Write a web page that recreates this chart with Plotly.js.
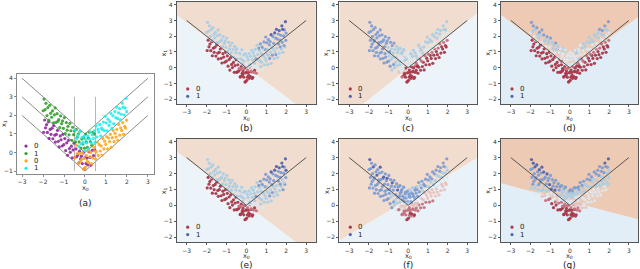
<!DOCTYPE html>
<html><head><meta charset="utf-8">
<script src="https://cdn.plot.ly/plotly-3.0.1.min.js"></script>
<style>html,body{margin:0;padding:0;background:#fff}#chart{width:640px;height:269px}</style>
</head><body><div id="chart"></div>
<script>
// ---------- data: the four groups of the V-shaped dataset ----------
const leftLowerX0 = [-1.97,-1.92,-1.88,-1.83,-1.79,-1.74,-1.71,-1.66,-1.62,-1.57,-1.53,-1.49,-1.44,-1.41,-1.36,-1.31,-1.27,-1.23,-1.18,-1.14,-1.09,-1.05,-1.01,-0.96,-0.92,-0.87,-0.83,-0.79,-0.74,-0.70,-0.65,-0.61,-0.57,-0.52,-0.48,-0.43,-0.39,-0.35,-0.30,-0.26,-0.21,-0.17,-0.13,-0.08,-0.04,0.01,0.05,0.10,0.14,0.19,0.24,0.29,0.35,0.41,0.47];
const leftLowerX1 = [1.09,1.75,1.33,1.50,1.08,1.65,0.76,1.24,0.98,1.31,0.74,1.45,0.93,0.56,0.98,1.19,0.60,0.30,0.89,0.68,0.35,0.98,0.42,0.75,0.10,0.52,-0.15,0.65,0.21,0.01,0.34,-0.29,0.14,0.50,-0.28,0.19,-0.22,-0.13,-0.56,0.07,-0.35,-0.20,-0.60,-0.02,-0.88,-0.27,-0.60,-0.30,-0.67,0.04,-0.26,-0.68,0.12,-0.17,0.13];
const leftUpperX0 = [-1.99,-1.95,-1.90,-1.86,-1.81,-1.77,-1.72,-1.68,-1.64,-1.59,-1.55,-1.50,-1.46,-1.42,-1.38,-1.33,-1.29,-1.25,-1.20,-1.16,-1.11,-1.07,-1.03,-0.98,-0.94,-0.89,-0.85,-0.81,-0.76,-0.72,-0.67,-0.63,-0.59,-0.54,-0.50,-0.45,-0.41,-0.37,-0.32,-0.28,-0.23,-0.19,-0.15,-0.10,-0.06,-0.02,0.03,0.07,0.12,0.16,0.21,0.26,0.32,0.38,0.45];
const leftUpperX1 = [2.25,2.88,2.31,2.65,1.99,2.42,1.74,2.54,2.11,1.90,2.24,1.60,2.03,2.40,1.62,2.09,1.68,1.77,1.34,1.97,1.55,1.70,1.30,1.88,1.02,1.61,1.20,1.41,0.95,1.57,1.17,0.66,1.36,0.96,1.16,0.57,1.24,0.82,0.99,0.57,1.14,0.24,0.73,0.46,0.80,0.23,0.99,0.56,0.27,0.78,1.09,0.59,0.39,1.09,0.99];
const rightLowerX0 = [1.98,1.93,1.89,1.84,1.80,1.75,1.70,1.66,1.61,1.57,1.52,1.48,1.43,1.39,1.34,1.30,1.25,1.21,1.17,1.12,1.08,1.03,0.99,0.94,0.90,0.85,0.81,0.77,0.72,0.68,0.63,0.59,0.54,0.50,0.46,0.41,0.37,0.32,0.28,0.24,0.19,0.15,0.11,0.06,0.02,-0.03,-0.07,-0.12,-0.16,-0.21,-0.26,-0.31,-0.37,-0.42,-0.48];
const rightLowerX1 = [1.74,1.32,1.41,0.98,1.61,1.19,1.33,0.93,1.51,0.65,1.24,0.83,1.03,0.58,1.19,0.80,0.28,0.98,0.59,0.78,0.20,0.86,0.44,0.61,0.19,0.76,-0.14,0.35,0.08,0.42,-0.16,0.55,0.03,-0.35,0.08,0.29,-0.30,-0.61,-0.01,-0.22,-0.55,0.08,-0.48,-0.15,-0.80,-0.32,-0.91,-0.02,-0.37,-0.48,-0.05,-0.59,-0.06,0.40,-0.28];
const rightUpperX0 = [1.99,1.96,1.91,1.87,1.82,1.78,1.73,1.69,1.65,1.60,1.56,1.51,1.47,1.42,1.37,1.33,1.28,1.24,1.19,1.15,1.10,1.06,1.02,0.97,0.93,0.88,0.84,0.79,0.75,0.70,0.66,0.62,0.57,0.53,0.48,0.44,0.40,0.35,0.31,0.26,0.22,0.17,0.13,0.09,0.04,0.00,-0.05,-0.09,-0.14,-0.18,-0.23,-0.29,-0.34,-0.40,-0.47];
const rightUpperX1 = [2.20,2.92,2.40,2.02,2.44,2.66,2.06,1.76,2.36,2.14,1.82,2.44,1.88,2.21,1.55,1.98,1.30,2.10,1.66,1.46,1.79,1.16,1.59,1.95,1.17,1.64,1.23,1.31,0.89,1.51,1.10,1.25,0.84,1.43,0.56,1.16,0.75,0.95,0.50,1.11,0.72,0.20,0.90,0.51,0.70,0.12,0.88,0.54,0.81,0.47,1.14,0.34,0.92,0.76,1.21];

// legend labels of panel (a) and of panels (b)-(g), captions
const legendA = ["0","1","0","1"];
const legendModel = ["0","1"];
const panelLabels = ["(a)","(b)","(c)","(d)","(e)","(f)","(g)"];

// predicted shade of every point (0 = dark red ... 6 = dark blue); order: leftLower, leftUpper, rightLower, rightUpper
const shadesB = ["00000 00000 00000 00000 00000 00000 00000 00000 00000 00000 00303",
                 "44444 44444 44444 44444 44444 44444 44444 43434 34343 33333 33333",
                 "54545 45454 45444 54454 44444 43444 34313 41031 03010 00100 10130",
                 "56556 65565 56565 54655 54555 54545 45445 44444 44444 34344 43434"];
const shadesC = ["55555 55555 55555 55555 54545 44454 43443 43313 12030 10001 00100",
                 "55555 55555 55555 55555 55455 54545 44444 34443 43433 33333 33333",
                 "10001 00010 10001 00100 01000 10001 01000 10000 00000 00000 31342",
                 "34434 43344 34443 43443 43443 43443 44344 34434 43433 33434 43434"];
const shadesD = ["00000 00000 00000 00000 00000 00000 00010 00000 00010 00001 00000",
                 "35453 43544 53453 54435 44353 44435 43434 34343 43333 33433 43343",
                 "10001 00010 10001 00100 01000 10001 01000 10000 01000 00100 10010",
                 "35434 54354 35443 43443 43443 43434 34334 33433 33333 33333 33333"];
const shadesE = ["00000 00000 00000 00000 00000 00000 00000 00000 00000 00000 00303",
                 "44444 44444 44444 44444 44444 44444 44444 43434 34343 33333 33333",
                 "55454 45454 44444 54454 44444 43444 34313 41031 03010 00100 10130",
                 "66556 65565 56565 55655 54555 54545 45445 44444 44444 34344 43434"];
const shadesF = ["55555 55555 55555 55555 55555 45454 43452 42313 12131 11112 11212",
                 "56555 65556 55565 55655 56555 55655 55565 55555 45554 54545 45455",
                 "32223 22232 32223 21222 12221 21212 13112 31021 02010 10211 21241",
                 "45445 54455 45454 54554 54554 55545 54555 45554 55455 45455 55555"];
const shadesG = ["45554 53445 35424 42143 14130 20310 20130 10001 00010 00001 00212",
                 "56565 65655 65565 65556 55656 55565 54555 45454 53434 35434 54455",
                 "44434 34343 43334 33333 33333 32333 23212 31021 02010 00100 10130",
                 "46545 65455 45554 54544 54554 54445 45453 54435 43544 35444 54445"];

// reference lines
const vLineX = [-3, 0, 3];
const vLineY = [3, 0, 3];
const upperLineY = [4, 1, 4];
const lowerLineY = [2, -1, 2];
const splitLeftX = [-0.5, -0.5];
const splitRightX = [0.5, 0.5];
const splitY = [-1, 3];

// decision boundaries (x0 at plot edges / vertex, x1 values)
const boundBX = [-3.5, 3.5], boundBY = [3.35, -3.27];
const boundCX = [-3.5, 3.5], boundCY = [-3.5, 3.45];
const boundDX = [-3.5, 0, 3.5], boundDY = [3.35, 0.07, 3.24];
const boundEX = [-3.5, 3.5], boundEY = [3.38, -3.28];
const boundFX = [-3.5, 3.5], boundFY = [-2.21, 2.97];
const boundGX = [-3.5, 3.5], boundGY = [1.38, -0.90];

// ---------- styling ----------
const W = 640, H = 269;
const FONT = 'DejaVu Sans, sans-serif';
const shadeColors = ['#a8394a', '#c7717c', '#e9c0b8', '#dce7ef', '#a9cde5', '#7c9dd4', '#4f63b0'];
const groupColorsA = ['#8e2a9c', '#33a02c', '#ffa620', '#20eeee'];
const redLegend = '#a8394a', blueLegend = '#4f63b0';

const panels = [
  {px:[17,154], py:[74,174], xr:[-3.24,3.29], yr:[-1.16,4.23]},
  {px:[176.7,315.7], py:[1.7,104], xr:[-3.5,3.48], yr:[-2.3,4.19], shades:shadesB, bx:boundBX, by:boundBY, peach:'#f1ddcf', blue:'#edf4f9'},
  {px:[339.3,476.7], py:[1.7,104], xr:[-3.5,3.48], yr:[-2.3,4.19], shades:shadesC, bx:boundCX, by:boundCY, peach:'#f1ddcf', blue:'#edf4f9'},
  {px:[501,638.3], py:[1.7,104], xr:[-3.5,3.48], yr:[-2.3,4.19], shades:shadesD, bx:boundDX, by:boundDY, peach:'#eecab4', blue:'#e1edf6'},
  {px:[176.7,315.7], py:[139,242.3], xr:[-3.5,3.48], yr:[-2.33,4.17], shades:shadesE, bx:boundEX, by:boundEY, peach:'#f1ddcf', blue:'#edf4f9'},
  {px:[339.3,476.7], py:[139,242.3], xr:[-3.5,3.48], yr:[-2.33,4.17], shades:shadesF, bx:boundFX, by:boundFY, peach:'#f2dccd', blue:'#e9f2f8'},
  {px:[501,638.3], py:[139,242.3], xr:[-3.5,3.48], yr:[-2.33,4.17], shades:shadesG, bx:boundGX, by:boundGY, peach:'#edcab4', blue:'#e1eef7'}
];

const groupsX = [leftLowerX0, leftUpperX0, rightLowerX0, rightUpperX0];
const groupsY = [leftLowerX1, leftUpperX1, rightLowerX1, rightUpperX1];
const parse = s => s.replace(/\s/g, '').split('').map(Number);

const traces = [];
const layout = {
  width: W, height: H, margin: {l:0, r:0, t:0, b:0},
  paper_bgcolor: '#ffffff', plot_bgcolor: '#ffffff',
  showlegend: false, font: {family: FONT, color: '#333'},
  shapes: [], annotations: []
};
const ann = (x, y, text, size, extra) => layout.annotations.push(Object.assign({
  xref: 'paper', yref: 'paper', x: x / W, y: 1 - y / H, text: text, showarrow: false,
  xanchor: 'center', yanchor: 'middle', font: {size: size, family: FONT, color: '#222'}}, extra || {}));

panels.forEach((p, i) => {
  const k = i + 1;
  const xa = 'x' + (k === 1 ? '' : k), ya = 'y' + (k === 1 ? '' : k);
  const frameCol = i === 0 ? '#8a8a8a' : '#555555';
  const axBase = {
    showgrid: false, zeroline: false, showline: true, mirror: true,
    linecolor: frameCol, linewidth: 1, ticks: 'outside', ticklen: 2, tickwidth: 1,
    tickcolor: frameCol, tickfont: {size: 6, family: FONT, color: '#333'},
    dtick: 1, tick0: 0, automargin: false, fixedrange: true
  };
  layout['xaxis' + (k === 1 ? '' : k)] = Object.assign({}, axBase, {
    domain: [p.px[0]/W, p.px[1]/W], range: p.xr, anchor: ya});
  layout['yaxis' + (k === 1 ? '' : k)] = Object.assign({}, axBase, {
    domain: [1 - p.py[1]/H, 1 - p.py[0]/H], range: p.yr, anchor: xa});

  if (i === 0) {
    [upperLineY, vLineY, lowerLineY].forEach(ly => traces.push({
      type: 'scatter', mode: 'lines', x: vLineX, y: ly, xaxis: xa, yaxis: ya,
      line: {color: '#8c8c8c', width: 1}, hoverinfo: 'skip'}));
    [splitLeftX, splitRightX].forEach(sx => traces.push({
      type: 'scatter', mode: 'lines', x: sx, y: splitY, xaxis: xa, yaxis: ya,
      line: {color: '#b5b5b5', width: 1}, hoverinfo: 'skip'}));
    groupsX.forEach((gx, g) => traces.push({
      type: 'scatter', mode: 'markers', x: gx, y: groupsY[g], xaxis: xa, yaxis: ya,
      marker: {size: 3.2, color: groupColorsA[g], opacity: 0.9}, hoverinfo: 'skip'}));
  } else {
    traces.push({type: 'scatter', mode: 'none', fill: 'toself', fillcolor: p.blue,
      x: p.bx.concat([3.5, -3.5]), y: p.by.concat([-6, -6]), xaxis: xa, yaxis: ya, hoverinfo: 'skip'});
    traces.push({type: 'scatter', mode: 'none', fill: 'toself', fillcolor: p.peach,
      x: p.bx.concat([3.5, -3.5]), y: p.by.concat([8, 8]), xaxis: xa, yaxis: ya, hoverinfo: 'skip'});
    const xs = [], ys = [], cs = [];
    groupsX.forEach((gx, g) => {
      const lv = parse(p.shades[g]);
      gx.forEach((v, j) => { xs.push(v); ys.push(groupsY[g][j]); cs.push(shadeColors[lv[Math.min(j, lv.length-1)]]); });
    });
    traces.push({type: 'scatter', mode: 'markers', x: xs, y: ys, xaxis: xa, yaxis: ya,
      marker: {size: 3.2, color: cs, opacity: 0.95}, hoverinfo: 'skip'});
    traces.push({type: 'scatter', mode: 'lines', x: vLineX, y: vLineY, xaxis: xa, yaxis: ya,
      line: {color: '#555555', width: 1}, hoverinfo: 'skip'});
  }

  // axis titles
  ann((p.px[0] + p.px[1]) / 2, p.py[1] + 13.8, 'x<sub>0</sub>', 6.5);
  ann(p.px[0] - 13, (p.py[0] + p.py[1]) / 2, 'x<sub>1</sub>', 6.5, {textangle: -90});

  // legend drawn as small circles + labels inside the panel
  const entries = i === 0 ? legendA.map((t, g) => [t, groupColorsA[g]])
                          : [[legendModel[0], redLegend], [legendModel[1], blueLegend]];
  const step = 7.4;
  const mx = p.px[0] + (i === 0 ? 9 : 11);
  const bottomOff = i === 0 ? 5.7 : 7.7;
  entries.forEach((e, j) => {
    const yy = p.py[1] - bottomOff - (entries.length - 1 - j) * step;
    layout.shapes.push({type: 'circle', xref: 'paper', yref: 'paper', xsizemode: 'pixel', ysizemode: 'pixel',
      xanchor: mx / W, yanchor: 1 - yy / H, x0: -1.6, x1: 1.6, y0: -1.6, y1: 1.6,
      fillcolor: e[1], line: {width: 0}});
    ann(mx + 6, yy, e[0], 7, {xanchor: 'left'});
  });

  // panel caption
  const capY = i === 0 ? 202.5 : (p.py[0] < 50 ? 127.5 : 265);
  ann((p.px[0] + p.px[1]) / 2, capY, panelLabels[i], 9);
});

Plotly.newPlot('chart', traces, layout, {staticPlot: true, displayModeBar: false});
</script></body></html>
